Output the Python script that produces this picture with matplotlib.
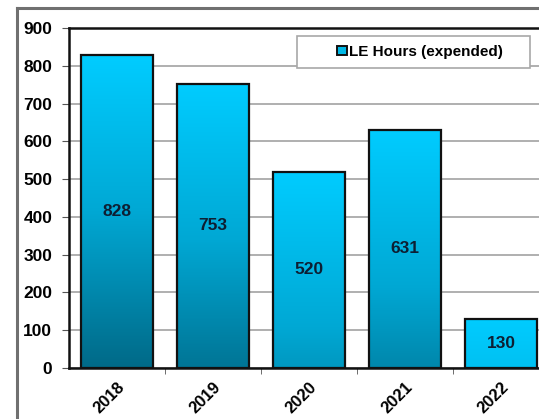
import numpy as np
import matplotlib
matplotlib.use("Agg")
import matplotlib.pyplot as plt
from matplotlib.colors import LinearSegmentedColormap
from matplotlib.patches import Rectangle, Patch
from matplotlib.lines import Line2D

# data
years = ['2018', '2019', '2020', '2021', '2022']
hours = [828, 753, 520, 631, 130]
legend_label = 'LE Hours (expended)'

plt.rcParams['font.family'] = ['Liberation Sans', 'DejaVu Sans']
plt.rcParams['font.weight'] = 'bold'

W, H = 539, 419
fig = plt.figure(figsize=(W / 100, H / 100), dpi=100)
fig.patch.set_facecolor('white')

# axes runs past the right edge, like the cropped original
ax = fig.add_axes([69 / W, 1 - 368 / H, 480 / W, 340 / H])

x = np.arange(len(years))
bars = ax.bar(x, hours, width=0.76, facecolor='none', edgecolor='#111111',
              linewidth=1.6, zorder=3)

# gradient fill, light cyan at the top getting darker downwards
cmap = LinearSegmentedColormap.from_list('lehours', ['#00ccff', '#00a8d4', '#006a88'])
tallest = max(hours)
for b in bars:
    x0, w, h = b.get_x(), b.get_width(), b.get_height()
    y = np.linspace(h, 0, 200)
    t = (h - y) / tallest
    img = cmap(t)[:, None, :]
    ax.imshow(img, extent=(x0, x0 + w, 0, h), aspect='auto', zorder=2,
              interpolation='bilinear')

for i, v in enumerate(hours):
    ax.text(x[i], v / 2, str(v), ha='center', va='center', fontsize=12.5,
            fontweight='bold', color='#0d1f33', zorder=4)

ax.set_xlim(-0.5, len(years) - 0.5)
ax.set_ylim(0, 900)
ax.set_yticks(range(0, 901, 100))
ax.set_xticks(x)
ax.set_xticklabels(years, rotation=45, ha='right', rotation_mode='anchor',
                   fontsize=12, fontweight='bold')
ax.set_xticks(x[:-1] + 0.5, minor=True)
ax.tick_params(axis='x', which='major', length=0, pad=8)
ax.tick_params(axis='x', which='minor', length=4, color='#555555')
ax.tick_params(axis='y', length=5, color='#555555', labelsize=12.5, pad=7)
for lab in ax.get_yticklabels():
    lab.set_fontweight('bold')

ax.grid(axis='y', color='#9a9a9a', linewidth=1.1, zorder=0)
ax.set_axisbelow(True)
for s in ['left', 'top', 'bottom']:
    ax.spines[s].set_color('#111111')
    ax.spines[s].set_linewidth(1.8)
ax.spines['right'].set_visible(False)

# legend box
fig.patches.append(Rectangle((297 / W, 1 - 68 / H), 233 / W, 32 / H,
                             transform=fig.transFigure, facecolor='white',
                             edgecolor='#a8a8a8', linewidth=1.2, zorder=5))
handle = Patch(facecolor='#00b8e6', edgecolor='#111111', linewidth=1.4)
fig.legend([handle], [legend_label], loc='center', frameon=False,
           bbox_to_anchor=(420 / W, 1 - 52 / H), bbox_transform=fig.transFigure,
           prop={'weight': 'bold', 'size': 11}, handlelength=0.6,
           handleheight=0.6, handletextpad=0.15)

# outer chart frame
fig.add_artist(Line2D([17 / W, 17 / W], [0, 1 - 8 / H], transform=fig.transFigure,
                      color='#707070', linewidth=2.2))
fig.add_artist(Line2D([17 / W, 1], [1 - 8 / H, 1 - 8 / H], transform=fig.transFigure,
                      color='#707070', linewidth=2.2))

fig.savefig('out.png', dpi=100)
